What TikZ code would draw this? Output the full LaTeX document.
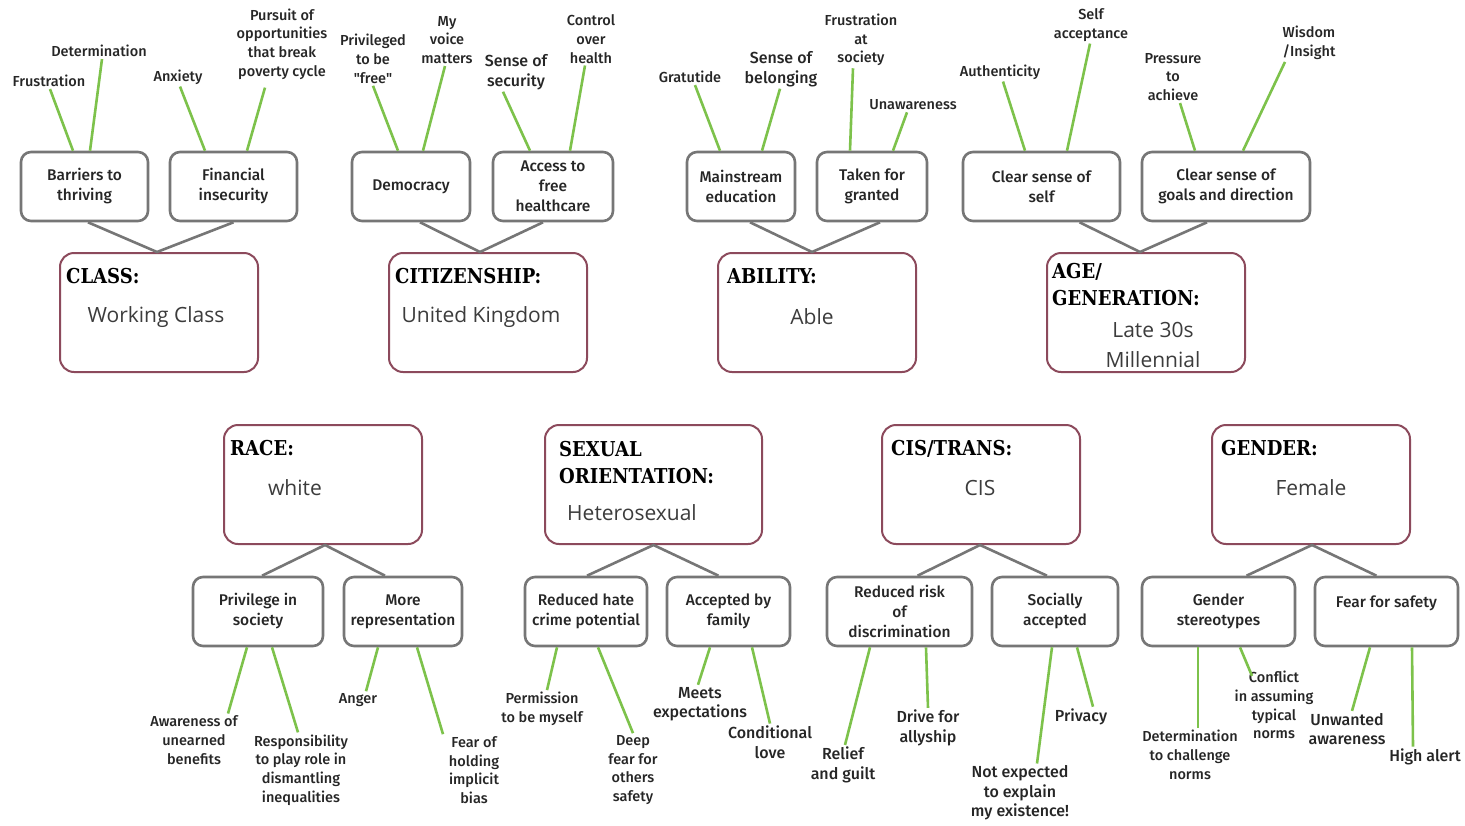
\documentclass[tikz,border=0pt]{standalone}
\usepackage{fontspec}
\setmainfont{Fira Sans}
\newfontfamily\leaffont{Fira Sans Medium}
\newfontfamily\titlefont{DejaVu Serif}[FakeStretch=0.88]
\newfontfamily\valfont{Open Sans}
\usepackage{xcolor}
\usepackage{tikz}
\usetikzlibrary{positioning,calc}

\definecolor{boxgray}{HTML}{767676}
\definecolor{plum}{HTML}{8C4A5C}
\definecolor{leafgreen}{HTML}{7DC24B}
\definecolor{ink}{HTML}{262626}

\begin{document}
\begin{tikzpicture}[
    x=1pt, y=-1pt,
    cat/.style={rectangle, draw=plum, line width=2pt, rounded corners=14pt, minimum height=119pt},
    facet/.style={rectangle, draw=boxgray, line width=2.6pt, rounded corners=10pt, minimum height=69pt, align=center, text=ink, inner sep=1pt, font=\leaffont\fontsize{15.5}{20}\selectfont},
    leaf/.style={align=center, text=ink, inner sep=2pt, font=\leaffont\fontsize{14.5}{18.7}\selectfont},
    leafbig/.style={leaf, font=\leaffont\fontsize{16}{19.5}\selectfont},
    ttl/.style={anchor=base west, inner sep=0pt, align=left, text=black, font=\titlefont\bfseries\fontsize{20.5}{27}\selectfont},
    val/.style={align=center, text=ink!90, inner sep=0pt, font=\valfont\fontsize{21}{30}\selectfont},
    trunk/.style={draw=boxgray, line width=2.6pt},
    twig/.style={draw=leafgreen, line width=2.6pt}
]
\useasboundingbox[fill=white] (0,0) rectangle (1465,825);

% ============================================================
% TOP ROW -- category boxes
% ============================================================
\node[cat, minimum width=198pt] (class) at (159,312.5) {};
\node[cat, minimum width=198pt] (citi)  at (488,312.5) {};
\node[cat, minimum width=198pt] (abil)  at (817,312.5) {};
\node[cat, minimum width=198pt] (age)   at (1146,312.5) {};

\node[ttl] (class_t) at (66,283)   {CLASS:};
\node[ttl] (citi_t)  at (395,283)  {CITIZENSHIP:};
\node[ttl] (abil_t)  at (727,283)  {ABILITY:};
\node[ttl] (age_t)   at (1052,305) {AGE/\\GENERATION:};

\node[val] (class_v) at (156,317)  {Working Class};
\node[val] (citi_v)  at (481,317)  {United Kingdom};
\node[val] (abil_v)  at (812,317)  {Able};
\node[val] (age_v)   at (1153,345) {Late 30s\\Millennial};

% gray facets
\node[facet, minimum width=127pt] (barr)   at (84.5,186.5)  {Barriers to\\thriving};
\node[facet, minimum width=127pt] (fin)    at (233.5,186.5) {Financial\\insecurity};
\node[facet, minimum width=118pt] (demo)   at (411,186.5)   {Democracy};
\node[facet, minimum width=120pt] (health) at (553,186.5)   {Access to\\free\\healthcare};
\node[facet, minimum width=108pt] (edu)    at (741,186.5)   {Mainstream\\education};
\node[facet, minimum width=110pt] (grant)  at (872,186.5)   {Taken for\\granted};
\node[facet, minimum width=157pt] (self)   at (1041.5,186.5){Clear sense of\\self};
\node[facet, minimum width=168pt] (goals)  at (1226,186.5)  {Clear sense of\\goals and direction};

% feelings
\node[leaf]    (frus)   at (49,81)    {Frustration};
\node[leaf]    (deter)  at (99,51)    {Determination};
\node[leaf]    (anx)    at (178,77)   {Anxiety};
\node[leaf]    (purs)   at (282,44)   {Pursuit of\\opportunities\\that break\\poverty cycle};
\node[leaf]    (privf)  at (373,59)   {Privileged\\to be\\"free"};
\node[leaf]    (voice)  at (447,40)   {My\\voice\\matters};
\node[leafbig] (secur)  at (516,72)   {Sense of\\security};
\node[leaf]    (ctrl)   at (591,39)   {Control\\over\\health};
\node[leaf]    (grat)   at (690,77)   {Gratutide};
\node[leafbig] (belong) at (781,69)   {Sense of\\belonging};
\node[leaf]    (fsoc)   at (861,40)   {Frustration\\at\\society};
\node[leaf]    (unaw)   at (913,105)  {Unawareness};
\node[leaf]    (auth)   at (1000,72)  {Authenticity};
\node[leaf]    (sacc)   at (1091,25)  {Self\\acceptance};
\node[leaf]    (press)  at (1173,77)  {Pressure\\to\\achieve};
\node[leaf]    (wisd)   at (1309,43)  {Wisdom\\/Insight};

% ============================================================
% BOTTOM ROW -- category boxes
% ============================================================
\node[cat, minimum width=198pt] (race) at (323,484.5)   {};
\node[cat, minimum width=217pt] (sex)  at (653.5,484.5) {};
\node[cat, minimum width=198pt] (cis)  at (981,484.5)   {};
\node[cat, minimum width=198pt] (gend) at (1311,484.5)  {};

\node[ttl] (race_t) at (230,455)  {RACE:};
\node[ttl] (sex_t)  at (559,483)  {SEXUAL\\ORIENTATION:};
\node[ttl] (cis_t)  at (891,455)  {CIS/TRANS:};
\node[ttl] (gend_t) at (1221,455) {GENDER:};

\node[val] (race_v) at (295,488)  {white};
\node[val] (sex_v)  at (632,513)  {Heterosexual};
\node[val] (cis_v)  at (980,488)  {CIS};
\node[val] (gend_v) at (1311,488) {Female};

% gray facets
\node[facet, minimum width=130pt] (privs)  at (258,611.5)    {Privilege in\\society};
\node[facet, minimum width=118pt] (repr)   at (403,611.5)    {More\\representation};
\node[facet, minimum width=122pt] (hate)   at (586,611.5)    {Reduced hate\\crime potential};
\node[facet, minimum width=123pt] (fam)    at (728.5,611.5)  {Accepted by\\family};
\node[facet, minimum width=145pt] (risk)   at (899.5,611.5)  {Reduced risk\\of\\discrimination};
\node[facet, minimum width=126pt] (soc)    at (1055,611.5)   {Socially\\accepted};
\node[facet, minimum width=153pt] (stereo) at (1218.5,611.5) {Gender\\stereotypes};
\node[facet, minimum width=143pt] (fear)   at (1386.5,611.5) {Fear for safety\\~};

% feelings
\node[leaf]    (aware)   at (194,740)  {Awareness of\\unearned\\benefits};
\node[leaf]    (resp)    at (301,770)  {Responsibility\\to play role in\\dismantling\\inequalities};
\node[leaf]    (anger)   at (358,700)  {Anger};
\node[leaf]    (fimpl)   at (474,770)  {Fear of\\holding\\implicit\\bias};
\node[leaf]    (perm)    at (542,709)  {Permission\\to be myself};
\node[leaf]    (deep)    at (633,770)  {Deep\\fear for\\others\\safety};
\node[leafbig] (meets)   at (700,704)  {Meets\\expectations};
\node[leafbig] (cond)    at (770,742)  {Conditional\\love};
\node[leafbig] (relief)  at (843,765)  {Relief\\and guilt};
\node[leafbig] (drive)   at (928,728)  {Drive for\\allyship};
\node[leafbig] (notexp)  at (1020,793) {Not expected\\to explain\\my existence!};
\node[leafbig] (privacy) at (1081,717) {Privacy};
\node[leaf]    (detch)   at (1190,755) {Determination\\to challenge\\norms};
\node[leaf]    (confl)   at (1274,705) {Conflict\\in assuming\\typical\\norms};
\node[leafbig] (unw)     at (1347,729) {Unwanted\\awareness};
\node[leafbig] (high)    at (1425,757) {High alert};

% ============================================================
% CONNECTORS -- gray (category to facet)
% ============================================================
\draw[trunk] ([xshift=3.5pt]barr.south) -- ([xshift=-2pt]class.north) -- (fin.south);
\draw[trunk] ([xshift=9pt]demo.south) -- ([xshift=-8pt]citi.north) -- ([xshift=-10pt]health.south);
\draw[trunk] ([xshift=9pt]edu.south) -- ([xshift=-5pt]abil.north) -- ([xshift=8pt]grant.south);
\draw[trunk] ([xshift=38pt]self.south) -- ([xshift=-6pt]age.north) -- ([xshift=-19pt]goals.south);

\draw[trunk] ([xshift=4pt]privs.north) -- ([xshift=2pt]race.south) -- ([xshift=-18pt]repr.north);
\draw[trunk] ([xshift=1pt]hate.north) -- (sex.south) -- ([xshift=-10pt]fam.north);
\draw[trunk] ([xshift=18pt]risk.north) -- ([xshift=-1pt]cis.south) -- ([xshift=-8pt]soc.north);
\draw[trunk] ([xshift=28pt]stereo.north) -- ([xshift=1pt]gend.south) -- ([xshift=-10pt]fear.north);

% ============================================================
% CONNECTORS -- green (facet to feeling)
% ============================================================
\draw[twig] ([xshift=1pt]frus.south)    -- ([xshift=-11.5pt]barr.north);
\draw[twig] ([xshift=3pt]deter.south)   -- ([xshift=5.5pt]barr.north);
\draw[twig] ([xshift=2pt]anx.south)     -- ([xshift=-28.5pt]fin.north);
\draw[twig] ([xshift=-17pt,yshift=-6pt]purs.south) -- ([xshift=13.5pt]fin.north);
\draw[twig] (privf.south)               -- ([xshift=-13pt]demo.north);
\draw[twig] ([xshift=-2pt]voice.south)  -- ([xshift=12pt]demo.north);
\draw[twig] ([xshift=-13pt]secur.south) -- ([xshift=-23pt]health.north);
\draw[twig] ([xshift=-6pt]ctrl.south)   -- ([xshift=17pt]health.north);
\draw[twig] ([xshift=5pt]grat.south)    -- ([xshift=-21pt]edu.north);
\draw[twig] ([xshift=-1pt]belong.south) -- ([xshift=21pt]edu.north);
\draw[twig] ([xshift=-8pt]fsoc.south)   -- ([xshift=-22pt]grant.north);
\draw[twig] ([xshift=-6pt]unaw.south)   -- ([xshift=21pt]grant.north);
\draw[twig] ([xshift=3pt]auth.south)    -- ([xshift=-16.5pt]self.north);
\draw[twig] ([xshift=-1pt]sacc.south)   -- ([xshift=25.5pt]self.north);
\draw[twig] ([xshift=7pt]press.south)   -- ([xshift=-31pt]goals.north);
\draw[twig] ([xshift=-24pt]wisd.south)  -- ([xshift=17pt]goals.north);

\draw[twig] ([xshift=-11pt]privs.south) -- ([xshift=34pt]aware.north);
\draw[twig] ([xshift=14pt]privs.south)  -- ([xshift=-3pt]resp.north);
\draw[twig] ([xshift=-25pt]repr.south)  -- ([xshift=8pt]anger.north);
\draw[twig] ([xshift=14pt]repr.south)   -- ([xshift=-31pt]fimpl.north);
\draw[twig] ([xshift=-29pt]hate.south)  -- ([xshift=5pt]perm.north);
\draw[twig] ([xshift=12pt]hate.south)   -- (deep.north);
\draw[twig] ([xshift=-18.5pt]fam.south) -- ([xshift=-2pt]meets.north);
\draw[twig] ([xshift=23.5pt]fam.south)  -- (cond.north);
\draw[twig] ([xshift=-29.5pt]risk.south)-- ([xshift=2pt]relief.north);
\draw[twig] ([xshift=26.5pt]risk.south) -- (drive.north);
\draw[twig] ([xshift=-3pt]soc.south)    -- ([xshift=17pt]notexp.north);
\draw[twig] ([xshift=22pt]soc.south)    -- ([xshift=12pt]privacy.north);
\draw[twig] ([xshift=-20.5pt]stereo.south) -- ([xshift=8pt]detch.north);
\draw[twig] ([xshift=21.5pt]stereo.south)  -- ([xshift=-22pt,yshift=-7pt]confl.north);
\draw[twig] ([xshift=-16.5pt]fear.south)   -- ([xshift=5pt]unw.north);
\draw[twig] ([xshift=25.5pt]fear.south)    -- ([xshift=-12pt]high.north);

\end{tikzpicture}
\end{document}
